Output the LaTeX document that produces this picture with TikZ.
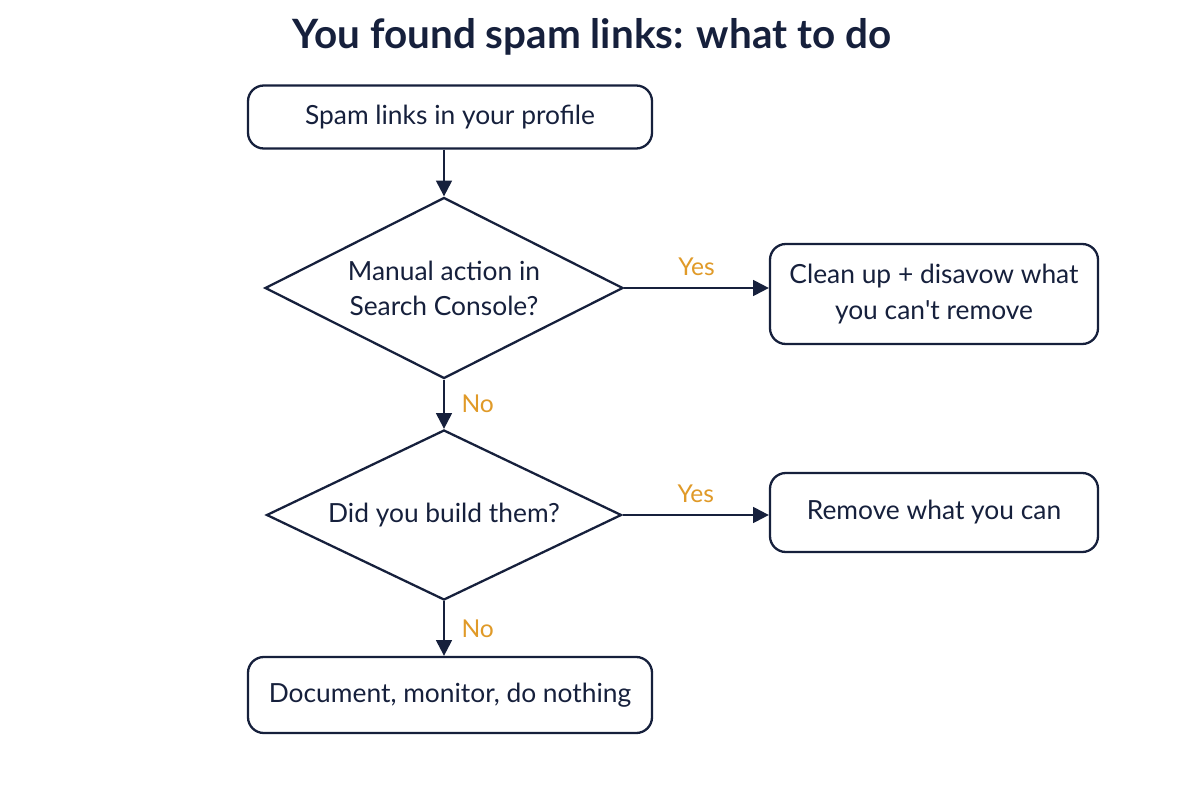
\documentclass[tikz,border=0pt]{standalone}
\usepackage{fontspec}
\setmainfont{Lato}
\usetikzlibrary{shapes.geometric,arrows.meta}
\definecolor{flownavy}{RGB}{22,32,60}
\definecolor{flowamber}{RGB}{224,154,40}

\tikzset{
    flowbox/.style={draw=flownavy, line width=1.3pt, rounded corners=9pt, align=center,
        text=flownavy, font=\fontsize{15}{20}\selectfont, inner sep=0pt},
    flowask/.style={draw=flownavy, line width=1.3pt, diamond, align=center, inner sep=0pt,
        text=flownavy, font=\fontsize{15}{20}\selectfont},
    flowarrow/.style={draw=flownavy, line width=1.3pt, -{Triangle[length=9pt,width=9pt]}},
    flowtag/.style={text=flowamber, font=\fontsize{14}{16}\selectfont}
}

\begin{document}
\begin{tikzpicture}
    \useasboundingbox[fill=white] (0,0) rectangle (24,-16);

    % title
    \node[text=flownavy, font=\fontsize{23}{28}\selectfont\bfseries] (title) at (11.84,-0.74) {You found spam links: what to do};

    % left column
    \node[flowbox, minimum width=8.08cm, minimum height=1.26cm] (start) at (9.0,-2.34) {Spam links in your profile};
    \node[flowask, shape aspect=1.98, minimum width=7.16cm, minimum height=3.62cm] (manual) at (8.88,-5.76) {Manual action in\\Search Console?};
    \node[flowask, shape aspect=2.07, minimum width=7.10cm, minimum height=3.40cm] (built) at (8.88,-10.30) {Did you build them?};
    \node[flowbox, minimum width=8.08cm, minimum height=1.52cm] (nothing) at (9.0,-13.90) {Document, monitor, do nothing};

    % right column
    \node[flowbox, minimum width=6.56cm, minimum height=2.0cm] (cleanup) at (18.68,-5.88) {Clean up + disavow what\\you can\textquotesingle t remove};
    \node[flowbox, minimum width=6.56cm, minimum height=1.58cm] (remove) at (18.68,-10.25) {Remove what you can};

    % connectors
    \draw[flowarrow] (start.south -| manual.north) -- (manual.north);
    \draw[flowarrow] (manual.south) -- node[flowtag, right=6pt] (no1) {No} (built.north);
    \draw[flowarrow] (built.south) -- node[flowtag, right=6pt] (no2) {No} (built.south |- nothing.north);
    \draw[flowarrow] (manual.east) -- node[flowtag, above=3pt] (yes1) {Yes} (manual.east -| cleanup.west);
    \draw[flowarrow] (built.east) -- node[flowtag, above=3pt] (yes2) {Yes} (built.east -| remove.west);
\end{tikzpicture}
\end{document}
